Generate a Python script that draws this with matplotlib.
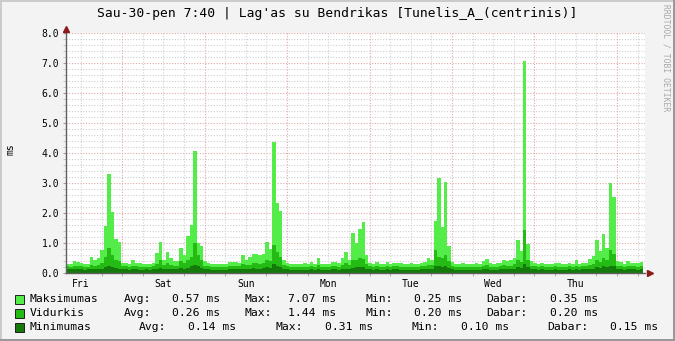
# Lag'as su Bendrikas - weekly latency graph (rrdtool look)
import matplotlib
matplotlib.use('Agg')
import matplotlib.pyplot as plt
from matplotlib.patches import Rectangle
import numpy as np

# hourly values, first bin starts Fri 7:40
maksimumas = [
    0.30, 0.31, 0.40, 0.36, 0.33, 0.31, 0.30, 0.55, 0.45, 0.50, 0.77, 1.58,
    3.30, 2.02, 1.15, 1.05, 0.34, 0.35, 0.31, 0.43, 0.35, 0.34, 0.31, 0.30,
    0.31, 0.35, 0.67, 1.03, 0.45, 0.70, 0.50, 0.40, 0.40, 0.82, 0.60, 1.23,
    1.60, 4.08, 1.00, 0.90, 0.40, 0.35, 0.31, 0.30, 0.31, 0.30, 0.31, 0.38,
    0.36, 0.38, 0.35, 0.60, 0.45, 0.55, 0.65, 0.62, 0.60, 0.65, 1.04, 0.80,
    4.38, 2.32, 2.07, 0.45, 0.33, 0.30, 0.31, 0.30, 0.30, 0.33, 0.31, 0.38,
    0.31, 0.51, 0.30, 0.31, 0.30, 0.38, 0.36, 0.32, 0.50, 0.71, 0.45, 1.32,
    0.99, 1.47, 1.69, 0.60, 0.35, 0.31, 0.38, 0.30, 0.31, 0.38, 0.31, 0.34,
    0.35, 0.33, 0.31, 0.30, 0.32, 0.30, 0.31, 0.33, 0.38, 0.50, 0.45, 1.73,
    3.16, 1.54, 3.04, 0.90, 0.36, 0.31, 0.30, 0.33, 0.31, 0.30, 0.31, 0.33,
    0.31, 0.40, 0.47, 0.33, 0.31, 0.32, 0.34, 0.45, 0.40, 0.42, 0.50, 1.09,
    0.74, 7.07, 0.97, 0.40, 0.35, 0.31, 0.33, 0.31, 0.30, 0.31, 0.35, 0.32,
    0.30, 0.31, 0.33, 0.30, 0.43, 0.31, 0.33, 0.34, 0.47, 0.58, 1.10, 0.75,
    1.29, 0.82, 3.00, 2.54, 0.40, 0.38, 0.31, 0.40, 0.33, 0.34, 0.32, 0.38,
]
vidurkis = [
    0.22, 0.21, 0.24, 0.23, 0.22, 0.21, 0.21, 0.26, 0.25, 0.27, 0.32, 0.55,
    0.85, 0.60, 0.45, 0.40, 0.23, 0.22, 0.21, 0.24, 0.22, 0.21, 0.20, 0.21,
    0.21, 0.22, 0.30, 0.42, 0.27, 0.33, 0.28, 0.25, 0.24, 0.40, 0.33, 0.45,
    0.55, 1.00, 0.60, 0.45, 0.25, 0.22, 0.21, 0.20, 0.21, 0.20, 0.21, 0.23,
    0.22, 0.24, 0.22, 0.30, 0.26, 0.28, 0.33, 0.32, 0.30, 0.33, 0.45, 0.40,
    0.93, 0.70, 0.55, 0.27, 0.22, 0.20, 0.21, 0.20, 0.20, 0.21, 0.21, 0.24,
    0.21, 0.28, 0.20, 0.21, 0.20, 0.23, 0.22, 0.21, 0.27, 0.33, 0.26, 0.43,
    0.45, 0.50, 0.48, 0.30, 0.22, 0.21, 0.23, 0.20, 0.21, 0.23, 0.21, 0.22,
    0.22, 0.21, 0.21, 0.20, 0.21, 0.20, 0.21, 0.22, 0.23, 0.28, 0.26, 0.77,
    0.55, 0.50, 0.60, 0.40, 0.22, 0.21, 0.20, 0.21, 0.21, 0.20, 0.21, 0.21,
    0.21, 0.24, 0.26, 0.21, 0.21, 0.21, 0.22, 0.26, 0.24, 0.25, 0.30, 0.45,
    0.38, 1.44, 0.42, 0.25, 0.22, 0.21, 0.22, 0.21, 0.20, 0.21, 0.22, 0.21,
    0.20, 0.21, 0.22, 0.20, 0.25, 0.21, 0.22, 0.22, 0.27, 0.30, 0.42, 0.38,
    0.50, 0.45, 0.77, 0.65, 0.25, 0.23, 0.21, 0.24, 0.22, 0.22, 0.21, 0.23,
]
minimumas = [
    0.12, 0.12, 0.13, 0.12, 0.12, 0.11, 0.12, 0.13, 0.13, 0.14, 0.15, 0.20,
    0.25, 0.20, 0.16, 0.15, 0.12, 0.12, 0.11, 0.12, 0.12, 0.11, 0.11, 0.12,
    0.11, 0.12, 0.14, 0.17, 0.13, 0.15, 0.14, 0.13, 0.12, 0.17, 0.15, 0.18,
    0.22, 0.28, 0.22, 0.17, 0.13, 0.12, 0.11, 0.11, 0.11, 0.10, 0.11, 0.12,
    0.12, 0.13, 0.12, 0.15, 0.13, 0.14, 0.16, 0.15, 0.15, 0.16, 0.20, 0.18,
    0.30, 0.25, 0.20, 0.14, 0.12, 0.11, 0.11, 0.10, 0.11, 0.11, 0.11, 0.12,
    0.11, 0.13, 0.11, 0.11, 0.10, 0.12, 0.12, 0.11, 0.13, 0.15, 0.13, 0.18,
    0.20, 0.21, 0.20, 0.15, 0.12, 0.11, 0.12, 0.11, 0.11, 0.12, 0.11, 0.12,
    0.12, 0.11, 0.11, 0.10, 0.11, 0.11, 0.11, 0.12, 0.12, 0.14, 0.13, 0.25,
    0.22, 0.20, 0.23, 0.18, 0.12, 0.11, 0.11, 0.11, 0.11, 0.10, 0.11, 0.11,
    0.11, 0.12, 0.13, 0.11, 0.11, 0.11, 0.12, 0.13, 0.12, 0.13, 0.15, 0.20,
    0.18, 0.31, 0.19, 0.13, 0.12, 0.11, 0.12, 0.11, 0.11, 0.11, 0.12, 0.11,
    0.11, 0.11, 0.12, 0.11, 0.13, 0.11, 0.12, 0.12, 0.14, 0.15, 0.19, 0.17,
    0.22, 0.20, 0.25, 0.23, 0.13, 0.12, 0.11, 0.13, 0.12, 0.12, 0.11, 0.12,
]

days = ['Fri', 'Sat', 'Sun', 'Mon', 'Tue', 'Wed', 'Thu']
first_midnight = 16 + 20/60.   # hours from 7:40 to Sat 0:00

series_names = ['Maksimumas', 'Vidurkis', 'Minimumas']
stat_avg = ['0.57', '0.26', '0.14']
stat_max = ['7.07', '1.44', '0.31']
stat_min = ['0.25', '0.20', '0.10']
stat_now = ['0.35', '0.20', '0.15']
colors = ['#54EC48', '#24BC14', '#147A0C']

W, H = 675, 341
mono = 'DejaVu Sans Mono'

def fx(x):
    return x / W

def fy(y):
    return 1 - y / H

fig = plt.figure(figsize=(W/100, H/100), dpi=100, facecolor='#F3F3F3')
ax = fig.add_axes([fx(66), fy(273), 579/W, 240/H])
ax.set_facecolor('white')

nhours = len(maksimumas)
edges = np.arange(nhours + 1)
for vals, c in zip([maksimumas, vidurkis, minimumas], colors):
    ax.stairs(vals, edges, baseline=0, fill=True, color=c, linewidth=0, zorder=2)

ax.set_xlim(0, 168.5)
ax.set_ylim(0, 8)

# grid, rrdtool style
gcol = '#D0D0D0'
mcol = '#E0A8A8'
for yv in np.arange(0.2, 8.01, 0.2):
    if abs(yv - round(yv)) < 1e-6:
        ax.axhline(yv, color=mcol, lw=0.8, ls=(0, (1, 1.5)), zorder=1)
    else:
        ax.axhline(yv, color=gcol, lw=0.8, ls=(0, (1, 1.5)), zorder=1)
six_h = np.arange(first_midnight - 12, 168.5, 6)
six_h = six_h[six_h > 0]
for xv in six_h:
    if abs(((xv - first_midnight) / 24) - round((xv - first_midnight) / 24)) < 1e-6:
        ax.axvline(xv, color=mcol, lw=0.8, ls=(0, (1, 1.5)), zorder=1)
    else:
        ax.axvline(xv, color=gcol, lw=0.8, ls=(0, (1, 1.5)), zorder=1)

# ticks
noon = first_midnight - 12 + 24 * np.arange(len(days))
ax.set_xticks(noon)
ax.set_xticklabels(days, fontfamily=mono, fontsize=7)
ax.set_xticks(six_h, minor=True)
ax.tick_params(axis='x', which='major', length=0, pad=4)
ax.tick_params(axis='x', which='minor', length=2, color='#A0A0A0')
ax.set_yticks(np.arange(0, 8.01, 1))
ax.set_yticklabels(['%.1f' % v for v in np.arange(0, 8.01, 1)], fontfamily=mono, fontsize=7)
ax.set_yticks(np.arange(0, 8.01, 0.2), minor=True)
ax.tick_params(axis='y', which='major', length=2, color='#A0A0A0', pad=3)
ax.tick_params(axis='y', which='minor', length=2, color='#C0C0C0')

for s in ['top', 'right']:
    ax.spines[s].set_visible(False)
for s in ['left', 'bottom']:
    ax.spines[s].set_color('#606060')
    ax.spines[s].set_linewidth(1.0)
    ax.spines[s].set_zorder(5)

# arrows
ax.plot([0], [1.015], marker='^', ms=4, color='#8B1A1A', transform=ax.transAxes, clip_on=False, zorder=6)
ax.plot([1.008], [0], marker='>', ms=4, color='#8B1A1A', transform=ax.transAxes, clip_on=False, zorder=6)

# labels
fig.text(fx(11), fy(149), 'ms', rotation=90, ha='center', va='center', fontfamily=mono, fontsize=7)
fig.text(0.5, fy(14), "Sau-30-pen 7:40 | Lag'as su Bendrikas [Tunelis_A_(centrinis)]",
         ha='center', va='center', fontfamily=mono, fontsize=9.4)
fig.text(fx(666), fy(4), 'RRDTOOL / TOBI OETIKER', rotation=270, ha='center', va='top',
         fontfamily=mono, fontsize=5.8, color='#A8A8A8')

# legend
rows_y = [299, 313, 327]
cols = [[124, 172, 244.5, 287.5, 365, 414, 486, 550],
        [124, 172, 244.5, 287.5, 365, 414, 486, 550],
        [138.6, 187.7, 275.5, 325, 411.5, 460.6, 547.6, 610]]
for i in range(3):
    y = rows_y[i]
    fig.add_artist(Rectangle((fx(15), fy(y + 4.5)), 9/W, 9/H, transform=fig.transFigure,
                             facecolor=colors[i], edgecolor='#202020', lw=0.7))
    fig.text(fx(30), fy(y), series_names[i], va='center', fontfamily=mono, fontsize=8.2)
    parts = ['Avg:', stat_avg[i] + ' ms', 'Max:', stat_max[i] + ' ms',
             'Min:', stat_min[i] + ' ms', 'Dabar:', stat_now[i] + ' ms']
    for xp, t in zip(cols[i], parts):
        fig.text(fx(xp), fy(y), t, va='center', fontfamily=mono, fontsize=8.2)

# 3d border
fig.add_artist(Rectangle((0, fy(2)), 1, 2/H, transform=fig.transFigure, facecolor='#CBCBCB', lw=0))
fig.add_artist(Rectangle((0, 0), 2/W, 1, transform=fig.transFigure, facecolor='#CBCBCB', lw=0))
fig.add_artist(Rectangle((0, 0), 1, 2/H, transform=fig.transFigure, facecolor='#999999', lw=0))
fig.add_artist(Rectangle((fx(673), 0), 2/W, 1, transform=fig.transFigure, facecolor='#999999', lw=0))

plt.savefig('out.png', dpi=100, facecolor=fig.get_facecolor())
